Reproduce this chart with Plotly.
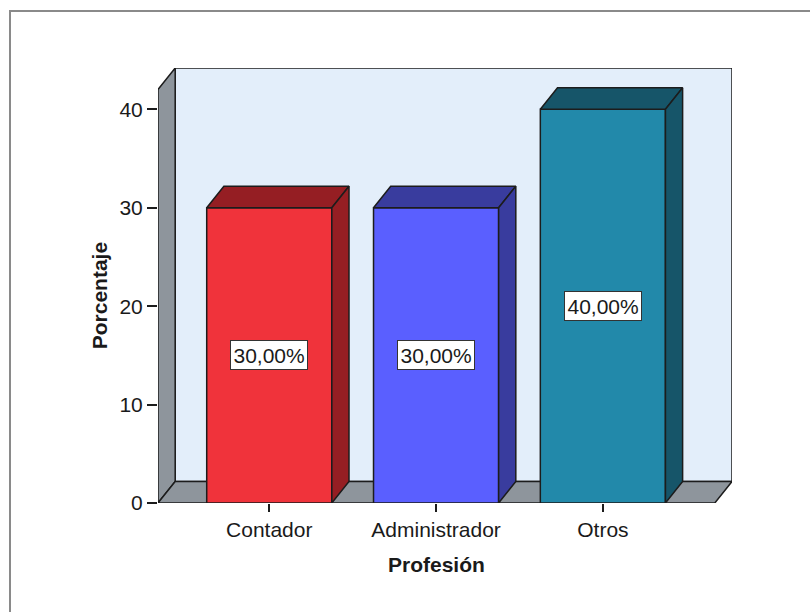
import plotly.graph_objects as go

# Data
categories = ["Contador", "Administrador", "Otros"]
percentages = [30.0, 30.0, 40.0]
y_ticks = [0, 10, 20, 30, 40]

# Styling
front_colors = ["#F0333B", "#5A5FFF", "#2289AA"]
shade_colors = ["#951E23", "#393C9E", "#165569"]
outline = "#1C1C1C"
wall_gray = "#8E959C"
back_wall = "#E3EEFA"
font_family = "Liberation Sans, Arial, sans-serif"
text_color = "#1A1A1A"
font_size = 21

bar_width = 0.75
x_min, x_max = -0.667, 2.774
y_max = 44.2
depth_x = 0.103   # pseudo-3D depth, in category units
depth_y = 2.185   # pseudo-3D depth, in value units
front_top = y_max - depth_y
floor_right = x_max - depth_x

fig = go.Figure()

# Front faces of the bars
xs = list(range(len(categories)))
fig.add_trace(go.Bar(
    x=xs, y=percentages, width=bar_width,
    marker=dict(color=front_colors, line=dict(color=outline, width=1.5)),
    hoverinfo="skip", showlegend=False,
))

# Top and side faces of the bars
for i, v in enumerate(percentages):
    l, r = i - bar_width / 2, i + bar_width / 2
    fig.add_trace(go.Scatter(
        x=[l, r, r + depth_x, l + depth_x, l],
        y=[v, v, v + depth_y, v + depth_y, v],
        fill="toself", fillcolor=shade_colors[i], mode="lines",
        line=dict(color=outline, width=1.5), hoverinfo="skip", showlegend=False,
    ))
    fig.add_trace(go.Scatter(
        x=[r, r + depth_x, r + depth_x, r, r],
        y=[0, depth_y, v + depth_y, v, 0],
        fill="toself", fillcolor=shade_colors[i], mode="lines",
        line=dict(color=outline, width=1.5), hoverinfo="skip", showlegend=False,
    ))

# Walls and floor of the chart box
def poly(points):
    return "M " + " L ".join(f"{px},{py}" for px, py in points) + " Z"

shapes = [
    dict(type="path", xref="x", yref="y", layer="below",
         path=poly([(x_min + depth_x, depth_y), (x_max, depth_y), (x_max, y_max), (x_min + depth_x, y_max)]),
         fillcolor=back_wall, line=dict(color=outline, width=1.5)),
    dict(type="path", xref="x", yref="y", layer="below",
         path=poly([(x_min, 0), (x_min, front_top), (x_min + depth_x, y_max), (x_min + depth_x, depth_y)]),
         fillcolor=wall_gray, line=dict(color=outline, width=1.5)),
    dict(type="path", xref="x", yref="y", layer="below",
         path=poly([(x_min, 0), (floor_right, 0), (x_max, depth_y), (x_min + depth_x, depth_y)]),
         fillcolor=wall_gray, line=dict(color=outline, width=1.5)),
]

# Outer frame of the output panel (top and left edges)
L, R, T, B = 158, 78, 68, 109
W, H = 810 - L - R, 612 - T - B
def px_x(p):
    return (p - L) / W
def px_y(p):
    return (612 - B - p) / H
shapes += [
    dict(type="line", xref="paper", yref="paper", x0=px_x(9), x1=px_x(812), y0=px_y(11), y1=px_y(11),
         line=dict(color="#8A8A8A", width=2)),
    dict(type="line", xref="paper", yref="paper", x0=px_x(10), x1=px_x(10), y0=px_y(11), y1=px_y(614),
         line=dict(color="#8A8A8A", width=2)),
]

annotations = []
for i, v in enumerate(percentages):
    annotations.append(dict(
        x=i, y=v / 2, xref="x", yref="y", showarrow=False,
        text=f"{v:.2f}".replace(".", ",") + "%",
        font=dict(family=font_family, size=font_size, color=text_color),
        bgcolor="white", bordercolor="#333333", borderwidth=1, borderpad=2.5,
    ))

# Axis titles
annotations.append(dict(
    x=x_min, y=front_top / 2, xref="x", yref="y", xshift=-59, showarrow=False,
    text="<b>Porcentaje</b>", textangle=-90,
    font=dict(family=font_family, size=font_size, color=text_color),
))
annotations.append(dict(
    x=(x_min + floor_right) / 2, y=0, xref="x", yref="y", yshift=-61, showarrow=False,
    text="<b>Profesión</b>",
    font=dict(family=font_family, size=font_size, color=text_color),
))

fig.update_layout(
    width=810, height=612,
    margin=dict(l=L, r=R, t=T, b=B, pad=0),
    paper_bgcolor="white", plot_bgcolor="white",
    shapes=shapes, annotations=annotations,
    showlegend=False,
    font=dict(family=font_family, size=font_size, color=text_color),
    xaxis=dict(
        range=[x_min, x_max], tickvals=xs, ticktext=categories,
        ticks="outside", ticklen=8, tickwidth=1.5, tickcolor=outline,
        showgrid=False, zeroline=False, showline=False, fixedrange=True,
        tickfont=dict(family=font_family, size=font_size, color=text_color),
    ),
    yaxis=dict(
        range=[0, y_max], tickvals=y_ticks, ticktext=[str(t) for t in y_ticks],
        ticks="outside", ticklen=10, tickwidth=1.5, tickcolor=outline,
        showgrid=False, zeroline=False, showline=False, fixedrange=True,
        tickfont=dict(family=font_family, size=font_size, color=text_color),
    ),
)

fig.write_html("out.html")
